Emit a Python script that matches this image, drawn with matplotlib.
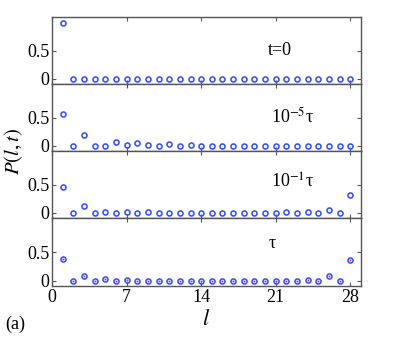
import numpy as np
import matplotlib
matplotlib.use('Agg')
import matplotlib.pyplot as plt

plt.rcParams['font.family'] = ['Liberation Serif', 'DejaVu Serif']
plt.rcParams['mathtext.fontset'] = 'stix'

sites = np.arange(1, 29)

# P(l,t) at the four times
p_t0 = [1.0] + [0.0] * 27
p_1e5 = [0.57, 0.0, 0.20, 0.0, 0.0, 0.065, 0.02, 0.045, 0.01, 0.0,
         0.035, 0.005, 0.01, 0.0, 0.0, 0.0, 0.0, 0.0, 0.0, 0.0,
         0.0, 0.0, 0.0, 0.0, 0.0, 0.0, 0.0, 0.0]
p_1e1 = [0.46, 0.0, 0.12, 0.0, 0.02, 0.0, 0.01, 0.0, 0.01, 0.0,
         0.0, 0.0, 0.0, 0.0, 0.0, 0.0, 0.0, 0.0, 0.0, 0.0,
         0.0, 0.01, 0.0, 0.01, 0.0, 0.05, 0.0, 0.31]
p_tau = [0.39, 0.0, 0.09, 0.0, 0.025, 0.0, 0.01, 0.0, 0.0, 0.0,
         0.0, 0.0, 0.0, 0.0, 0.0, 0.0, 0.0, 0.0, 0.0, 0.0,
         0.0, 0.005, 0.0, 0.02, 0.0, 0.08, 0.0, 0.37]

series = [p_t0, p_1e5, p_1e1, p_tau]
labels = ['t=0', '10$^{-5}$τ', '10$^{-1}$τ', 'τ']
label_x = [20.3, 20.6, 20.6, 20.3]
label_y = [0.5, 0.52, 0.55, 0.66]

fig = plt.figure(figsize=(3.99, 3.37), dpi=100)
W, H = 399.0, 337.0
left, right = 52 / W, 361 / W
tops = [17, 84, 151, 218, 286]

axes = []
for i in range(4):
    y0 = 1 - tops[i + 1] / H
    h = (tops[i + 1] - tops[i]) / H
    ax = fig.add_axes([left, y0, right - left, h])
    axes.append(ax)
    ax.plot(sites, series[i], 'o', mfc='none', mec='#3b55ff', ms=3.6, mew=1.2)
    if i == 3:
        ax.plot(sites, series[i], 'o', color='#e8302a', ms=1.4, mew=0)
    ax.set_xlim(0, 29)
    ax.set_ylim(-0.09, 1.1)
    ax.set_yticks([0, 0.5])
    ax.set_yticklabels(['0', '0.5'])
    ax.set_xticks([0, 7, 14, 21, 28])
    ax.tick_params(direction='in', top=True, right=True, length=3,
                   labelsize=13, color='#555555', pad=2)
    for s in ax.spines.values():
        s.set_color('#555555')
        s.set_linewidth(1.0)
    ax.text(label_x[i], label_y[i], labels[i], fontsize=13, va='center')
    if i < 3:
        ax.set_xticklabels([])

axes[3].set_xlabel(r'$l$', fontsize=16, labelpad=3)
fig.text(0.035, 0.55, r'$P(l,t)$', rotation=90, fontsize=15,
         ha='center', va='center')
fig.text(0.012, 0.025, '(a)', fontsize=13)

fig.savefig('out.png', dpi=100)
